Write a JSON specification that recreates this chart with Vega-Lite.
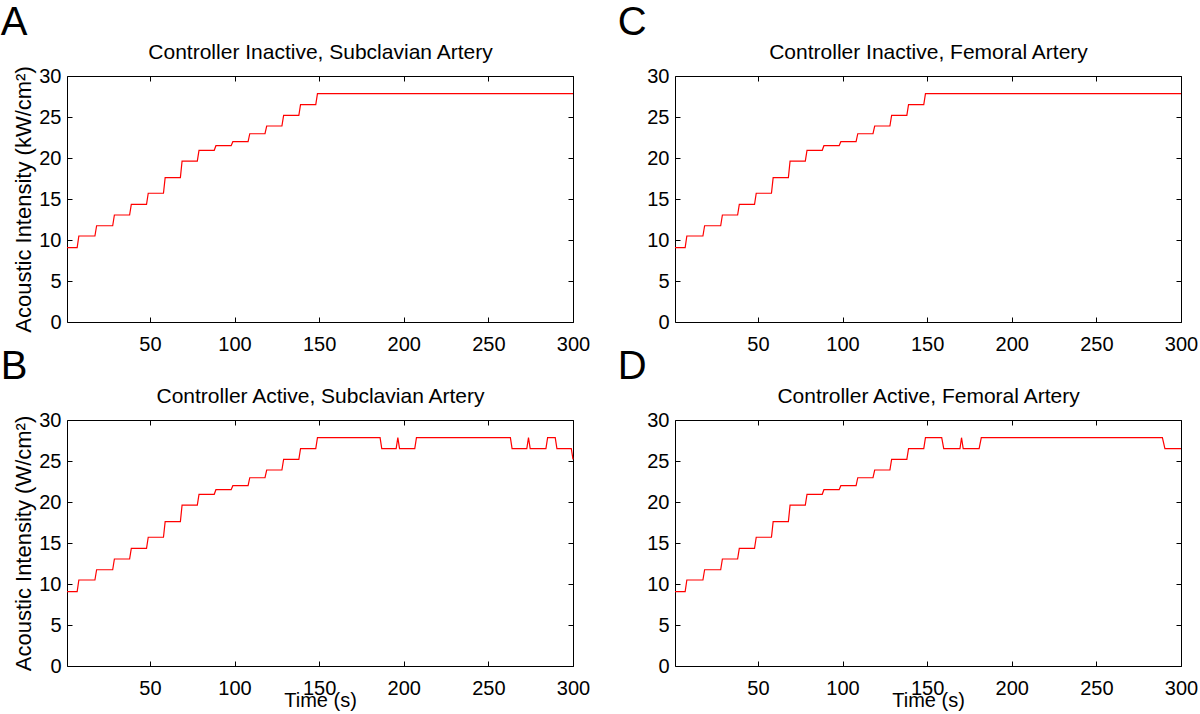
{
  "$schema": "https://vega.github.io/schema/vega-lite/v6.json",
  "padding": {"left": 0, "top": 2, "right": 5, "bottom": 5},
  "background": "white",
  "config": {
    "font": "Liberation Sans",
    "view": {"stroke": null},
    "axis": {
      "domainColor": "black", "tickColor": "black", "labelColor": "black", "titleColor": "black",
      "labelFont": "Liberation Sans", "titleFont": "Liberation Sans",
      "labelFontSize": 20, "titleFontSize": 21, "titleFontWeight": "normal", "labelFlush": false,
      "grid": false, "tickSize": -5, "domainWidth": 1, "tickWidth": 1
    },
    "title": {"fontSize": 40, "fontWeight": "normal", "anchor": "start", "frame": "bounds", "baseline": "alphabetic", "offset": -1, "color": "black", "font": "Liberation Sans"},
    "line": {"color": "#ff0000", "strokeWidth": 1.2}
  },
  "datasets": {
    "A": [
      {"t": 1, "v": 9.06}, {"t": 7, "v": 9.06}, {"t": 8, "v": 10.49}, {"t": 17.5, "v": 10.49}, {"t": 18.5, "v": 11.74},
      {"t": 28, "v": 11.74}, {"t": 29, "v": 13.05}, {"t": 38, "v": 13.05}, {"t": 39, "v": 14.35}, {"t": 48, "v": 14.35},
      {"t": 49, "v": 15.7}, {"t": 58, "v": 15.7}, {"t": 59, "v": 17.6}, {"t": 68, "v": 17.6}, {"t": 69, "v": 19.63},
      {"t": 78, "v": 19.63}, {"t": 79, "v": 20.94}, {"t": 88, "v": 20.94}, {"t": 89, "v": 21.5}, {"t": 98, "v": 21.5},
      {"t": 99, "v": 21.99}, {"t": 108, "v": 21.99}, {"t": 109, "v": 22.96}, {"t": 118, "v": 22.96}, {"t": 119, "v": 23.9},
      {"t": 128, "v": 23.9}, {"t": 129, "v": 25.2}, {"t": 138, "v": 25.2}, {"t": 139, "v": 26.5}, {"t": 148, "v": 26.5},
      {"t": 149, "v": 27.84}, {"t": 300, "v": 27.84}
    ],
    "C": [
      {"t": 1, "v": 9.06}, {"t": 7, "v": 9.06}, {"t": 8, "v": 10.49}, {"t": 17.5, "v": 10.49}, {"t": 18.5, "v": 11.74},
      {"t": 28, "v": 11.74}, {"t": 29, "v": 13.05}, {"t": 38, "v": 13.05}, {"t": 39, "v": 14.35}, {"t": 48, "v": 14.35},
      {"t": 49, "v": 15.7}, {"t": 58, "v": 15.7}, {"t": 59, "v": 17.6}, {"t": 68, "v": 17.6}, {"t": 69, "v": 19.63},
      {"t": 78, "v": 19.63}, {"t": 79, "v": 20.94}, {"t": 88, "v": 20.94}, {"t": 89, "v": 21.5}, {"t": 98, "v": 21.5},
      {"t": 99, "v": 21.99}, {"t": 108, "v": 21.99}, {"t": 109, "v": 22.96}, {"t": 118, "v": 22.96}, {"t": 119, "v": 23.9},
      {"t": 128, "v": 23.9}, {"t": 129, "v": 25.2}, {"t": 138, "v": 25.2}, {"t": 139, "v": 26.5}, {"t": 148, "v": 26.5},
      {"t": 149, "v": 27.84}, {"t": 300, "v": 27.84}
    ],
    "B": [
      {"t": 1, "v": 9.06}, {"t": 7, "v": 9.06}, {"t": 8, "v": 10.49}, {"t": 17.5, "v": 10.49}, {"t": 18.5, "v": 11.74},
      {"t": 28, "v": 11.74}, {"t": 29, "v": 13.05}, {"t": 38, "v": 13.05}, {"t": 39, "v": 14.35}, {"t": 48, "v": 14.35},
      {"t": 49, "v": 15.7}, {"t": 58, "v": 15.7}, {"t": 59, "v": 17.6}, {"t": 68, "v": 17.6}, {"t": 69, "v": 19.63},
      {"t": 78, "v": 19.63}, {"t": 79, "v": 20.94}, {"t": 88, "v": 20.94}, {"t": 89, "v": 21.5}, {"t": 98, "v": 21.5},
      {"t": 99, "v": 21.99}, {"t": 108, "v": 21.99}, {"t": 109, "v": 22.96}, {"t": 118, "v": 22.96}, {"t": 119, "v": 23.9},
      {"t": 128, "v": 23.9}, {"t": 129, "v": 25.2}, {"t": 138, "v": 25.2}, {"t": 139, "v": 26.5}, {"t": 148, "v": 26.5},
      {"t": 149, "v": 27.84}, {"t": 186, "v": 27.84}, {"t": 187, "v": 26.5}, {"t": 195.5, "v": 26.5}, {"t": 196.5, "v": 27.84},
      {"t": 197.5, "v": 26.5}, {"t": 206.5, "v": 26.5}, {"t": 207.5, "v": 27.84}, {"t": 263, "v": 27.84}, {"t": 264, "v": 26.5},
      {"t": 272.7, "v": 26.5}, {"t": 273.7, "v": 27.84}, {"t": 274.7, "v": 26.5}, {"t": 284, "v": 26.5}, {"t": 285, "v": 27.84},
      {"t": 289.5, "v": 27.84}, {"t": 290.5, "v": 26.5}, {"t": 299, "v": 26.5}, {"t": 300, "v": 25.2}
    ],
    "D": [
      {"t": 1, "v": 9.06}, {"t": 7, "v": 9.06}, {"t": 8, "v": 10.49}, {"t": 17.5, "v": 10.49}, {"t": 18.5, "v": 11.74},
      {"t": 28, "v": 11.74}, {"t": 29, "v": 13.05}, {"t": 38, "v": 13.05}, {"t": 39, "v": 14.35}, {"t": 48, "v": 14.35},
      {"t": 49, "v": 15.7}, {"t": 58, "v": 15.7}, {"t": 59, "v": 17.6}, {"t": 68, "v": 17.6}, {"t": 69, "v": 19.63},
      {"t": 78, "v": 19.63}, {"t": 79, "v": 20.94}, {"t": 88, "v": 20.94}, {"t": 89, "v": 21.5}, {"t": 98, "v": 21.5},
      {"t": 99, "v": 21.99}, {"t": 108, "v": 21.99}, {"t": 109, "v": 22.96}, {"t": 118, "v": 22.96}, {"t": 119, "v": 23.9},
      {"t": 128, "v": 23.9}, {"t": 129, "v": 25.2}, {"t": 138, "v": 25.2}, {"t": 139, "v": 26.5}, {"t": 148, "v": 26.5},
      {"t": 149, "v": 27.84}, {"t": 158.6, "v": 27.84}, {"t": 159.8, "v": 26.5}, {"t": 169.4, "v": 26.5}, {"t": 170.3, "v": 27.84},
      {"t": 171.3, "v": 26.5}, {"t": 180.7, "v": 26.5}, {"t": 182, "v": 27.84}, {"t": 289, "v": 27.84}, {"t": 290.5, "v": 26.5},
      {"t": 300, "v": 26.5}
    ]
  },
  "columns": 2,
  "spacing": {"row": 98, "column": 102},
  "bounds": "flush",
  "concat": [
    {
      "width": 506, "height": 246,
      "title": {"text": "A", "dx": -12},
      "data": {"name": "A"},
      "layer": [
        {"mark": {"type": "line"}, "encoding": {
          "x": {"field": "t", "type": "quantitative", "scale": {"domain": [1, 300], "nice": false, "zero": false}, "axis": {"orient": "bottom", "values": [50, 100, 150, 200, 250, 300], "title": null, "labelPadding": 17}},
          "y": {"field": "v", "type": "quantitative", "scale": {"domain": [0, 30], "nice": false}, "axis": {"orient": "left", "values": [0, 5, 10, 15, 20, 25, 30], "title": "Acoustic Intensity (kW/cm²)", "titleFontSize": 22, "labelPadding": 11, "titlePadding": 3}}}},
        {"mark": {"type": "line", "opacity": 0}, "encoding": {
          "x": {"field": "t", "type": "quantitative", "axis": {"orient": "top", "values": [50, 100, 150, 200, 250, 300], "labels": false, "title": "Controller Inactive, Subclavian Artery", "titlePadding": 13}},
          "y": {"field": "v", "type": "quantitative", "axis": {"orient": "right", "values": [0, 5, 10, 15, 20, 25, 30], "labels": false, "title": null}}}}
      ],
      "resolve": {"axis": {"x": "independent", "y": "independent"}}
    },
    {
      "width": 506, "height": 246,
      "title": {"text": "C", "dx": -29},
      "data": {"name": "C"},
      "layer": [
        {"mark": {"type": "line"}, "encoding": {
          "x": {"field": "t", "type": "quantitative", "scale": {"domain": [1, 300], "nice": false, "zero": false}, "axis": {"orient": "bottom", "values": [50, 100, 150, 200, 250, 300], "title": null, "labelPadding": 17}},
          "y": {"field": "v", "type": "quantitative", "scale": {"domain": [0, 30], "nice": false}, "axis": {"orient": "left", "values": [0, 5, 10, 15, 20, 25, 30], "title": null, "labelPadding": 11}}}},
        {"mark": {"type": "line", "opacity": 0}, "encoding": {
          "x": {"field": "t", "type": "quantitative", "axis": {"orient": "top", "values": [50, 100, 150, 200, 250, 300], "labels": false, "title": "Controller Inactive, Femoral Artery", "titlePadding": 13}},
          "y": {"field": "v", "type": "quantitative", "axis": {"orient": "right", "values": [0, 5, 10, 15, 20, 25, 30], "labels": false, "title": null}}}}
      ],
      "resolve": {"axis": {"x": "independent", "y": "independent"}}
    },
    {
      "width": 506, "height": 246,
      "title": {"text": "B", "dx": -12},
      "data": {"name": "B"},
      "layer": [
        {"mark": {"type": "line"}, "encoding": {
          "x": {"field": "t", "type": "quantitative", "scale": {"domain": [1, 300], "nice": false, "zero": false}, "axis": {"orient": "bottom", "values": [50, 100, 150, 200, 250, 300], "title": "Time (s)", "titleFontSize": 20, "labelPadding": 17, "titlePadding": -8}},
          "y": {"field": "v", "type": "quantitative", "scale": {"domain": [0, 30], "nice": false}, "axis": {"orient": "left", "values": [0, 5, 10, 15, 20, 25, 30], "title": "Acoustic Intensity (W/cm²)", "titleFontSize": 22, "labelPadding": 11, "titlePadding": 3}}}},
        {"mark": {"type": "line", "opacity": 0}, "encoding": {
          "x": {"field": "t", "type": "quantitative", "axis": {"orient": "top", "values": [50, 100, 150, 200, 250, 300], "labels": false, "title": "Controller Active, Subclavian Artery", "titlePadding": 13}},
          "y": {"field": "v", "type": "quantitative", "axis": {"orient": "right", "values": [0, 5, 10, 15, 20, 25, 30], "labels": false, "title": null}}}}
      ],
      "resolve": {"axis": {"x": "independent", "y": "independent"}}
    },
    {
      "width": 506, "height": 246,
      "title": {"text": "D", "dx": -29},
      "data": {"name": "D"},
      "layer": [
        {"mark": {"type": "line"}, "encoding": {
          "x": {"field": "t", "type": "quantitative", "scale": {"domain": [1, 300], "nice": false, "zero": false}, "axis": {"orient": "bottom", "values": [50, 100, 150, 200, 250, 300], "title": "Time (s)", "titleFontSize": 20, "labelPadding": 17, "titlePadding": -8}},
          "y": {"field": "v", "type": "quantitative", "scale": {"domain": [0, 30], "nice": false}, "axis": {"orient": "left", "values": [0, 5, 10, 15, 20, 25, 30], "title": null, "labelPadding": 11}}}},
        {"mark": {"type": "line", "opacity": 0}, "encoding": {
          "x": {"field": "t", "type": "quantitative", "axis": {"orient": "top", "values": [50, 100, 150, 200, 250, 300], "labels": false, "title": "Controller Active, Femoral Artery", "titlePadding": 13}},
          "y": {"field": "v", "type": "quantitative", "axis": {"orient": "right", "values": [0, 5, 10, 15, 20, 25, 30], "labels": false, "title": null}}}}
      ],
      "resolve": {"axis": {"x": "independent", "y": "independent"}}
    }
  ]
}
